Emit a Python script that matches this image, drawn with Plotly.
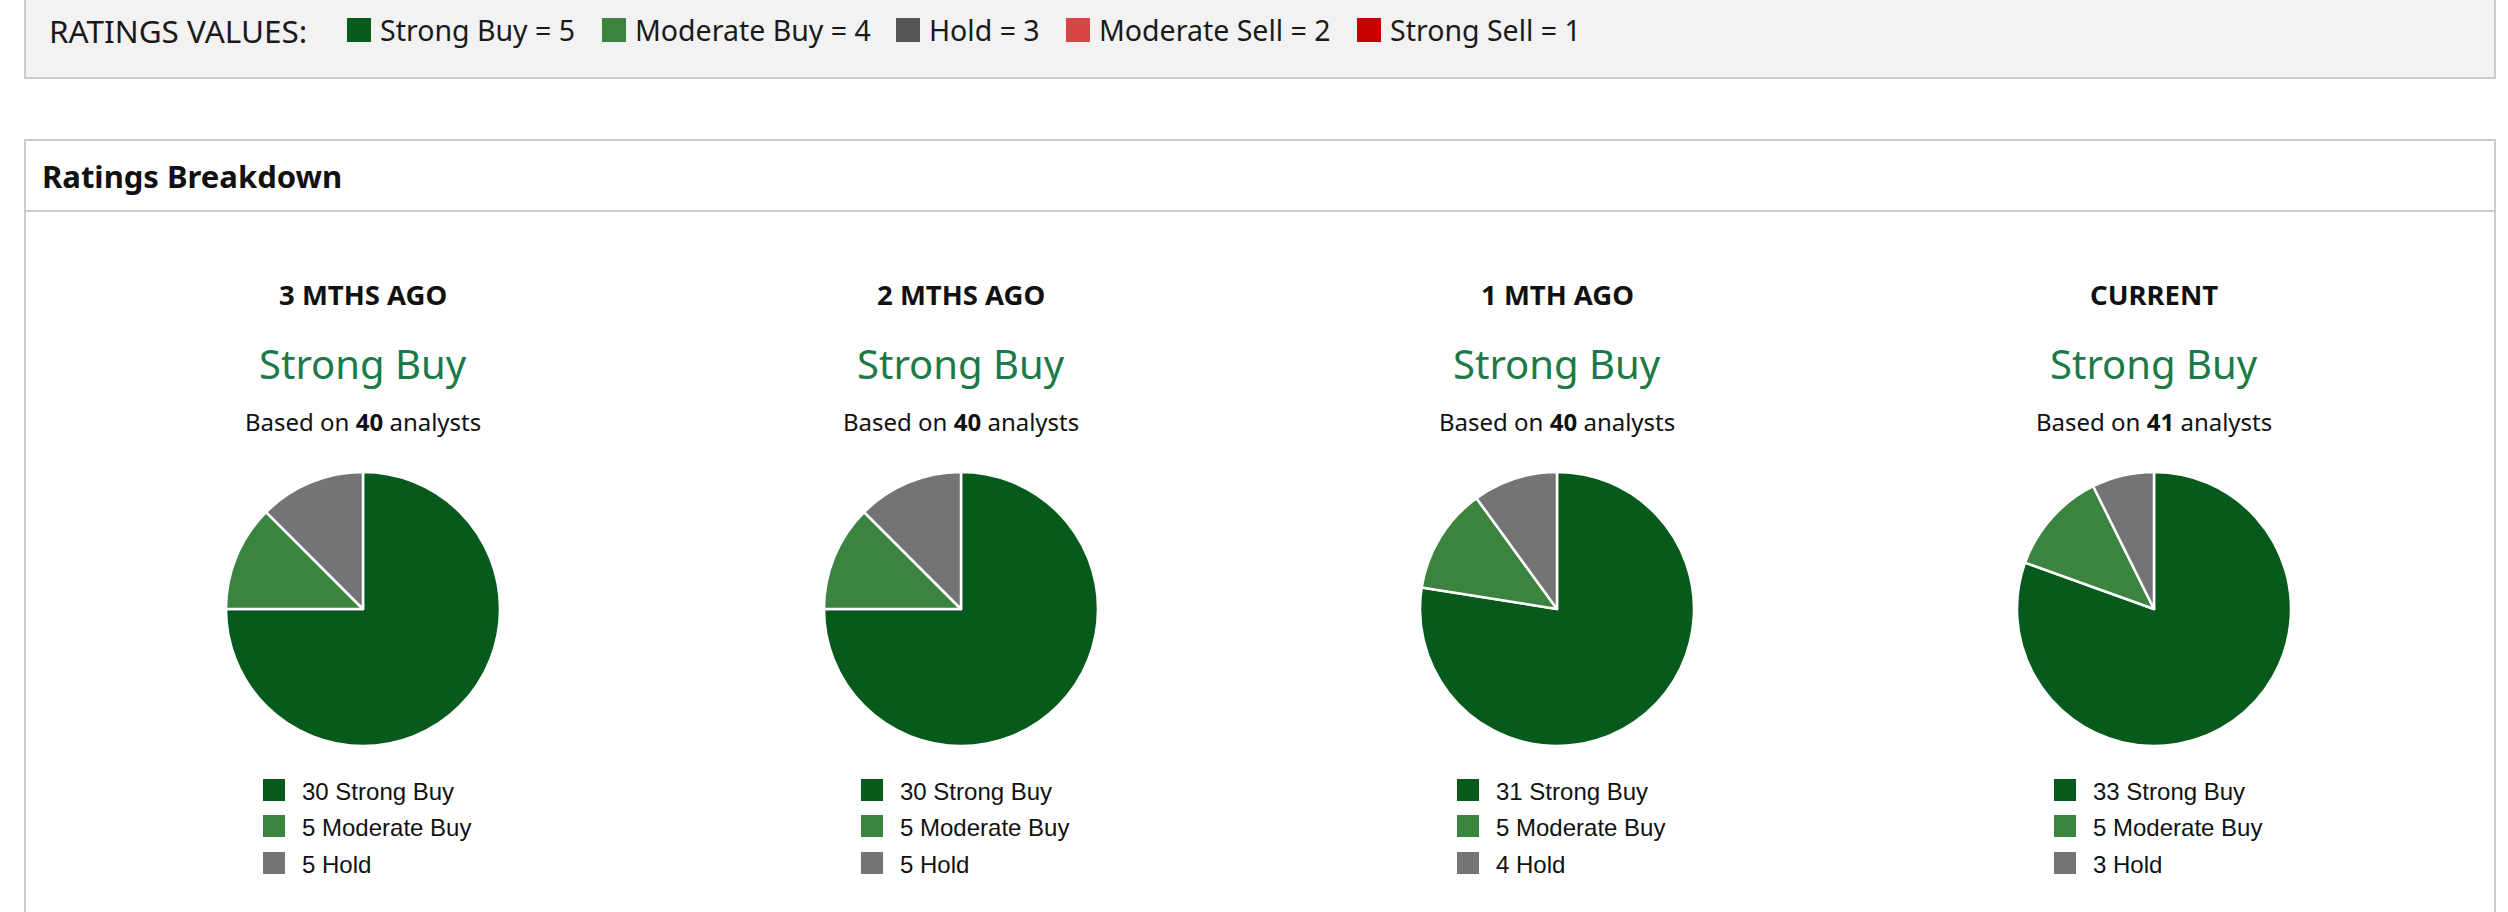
import plotly.graph_objects as go

# ---- data ----
periods = ["3 MTHS AGO", "2 MTHS AGO", "1 MTH AGO", "CURRENT"]
consensus = ["Strong Buy", "Strong Buy", "Strong Buy", "Strong Buy"]
analysts = [40, 40, 40, 41]
rating_names = ["Strong Buy", "Moderate Buy", "Hold"]
strong_buy = [30, 30, 31, 33]
moderate_buy = [5, 5, 5, 5]
hold = [5, 5, 4, 3]

scale_labels = ["Strong Buy = 5", "Moderate Buy = 4", "Hold = 3", "Moderate Sell = 2", "Strong Sell = 1"]
scale_colors = ["#065a1b", "#3a843f", "#555555", "#d94446", "#c60000"]
pie_colors = ["#065a1b", "#3a843f", "#747474"]

# ---- layout constants (pixels) ----
W, H = 2508, 912
col_x = [363, 961, 1557, 2154]
pie_cy = 609
pie_r = 137
scale_sq_x = [347, 602, 896, 1066, 1357]

FONT = "Noto Sans"
LEG_FONT = "Liberation Sans"

fig = go.Figure()

# pies
for i in range(len(periods)):
    vals = [strong_buy[i], moderate_buy[i], hold[i]]
    cx = col_x[i]
    fig.add_trace(go.Pie(
        values=vals,
        labels=rating_names,
        sort=False,
        direction="clockwise",
        rotation=0,
        textinfo="none",
        hoverinfo="label+value",
        marker=dict(colors=pie_colors, line=dict(color="white", width=2.5)),
        domain=dict(x=[(cx - pie_r) / W, (cx + pie_r) / W],
                    y=[1 - (pie_cy + pie_r) / H, 1 - (pie_cy - pie_r) / H]),
        showlegend=False,
    ))

shapes = []
annotations = []

# top gray box
shapes.append(dict(type="rect", xref="x", yref="y", x0=25, x1=2495, y0=-10, y1=78,
                   fillcolor="#f2f2f2", line=dict(color="#cccccc", width=2), layer="below"))
# ratings breakdown panel
shapes.append(dict(type="rect", xref="x", yref="y", x0=25, x1=2495, y0=140, y1=940,
                   fillcolor="white", line=dict(color="#cccccc", width=2), layer="below"))
shapes.append(dict(type="line", xref="x", yref="y", x0=25, x1=2495, y0=211, y1=211,
                   line=dict(color="#cccccc", width=2)))

annotations.append(dict(x=47, y=30, xref="x", yref="y", text="RATINGS VALUES:", showarrow=False,
                        xanchor="left", yanchor="middle",
                        font=dict(family=FONT, size=31.5, color="#1a1a1a")))
for lab, col, sx in zip(scale_labels, scale_colors, scale_sq_x):
    shapes.append(dict(type="rect", xref="x", yref="y", x0=sx, x1=sx + 24, y0=18, y1=42,
                       fillcolor=col, line=dict(width=0)))
    annotations.append(dict(x=sx + 31, y=30, xref="x", yref="y", text=lab, showarrow=False,
                            xanchor="left", yanchor="middle",
                            font=dict(family=FONT, size=28.5, color="#1a1a1a")))

annotations.append(dict(x=40, y=176, xref="x", yref="y", text="<b>Ratings Breakdown</b>", showarrow=False,
                        xanchor="left", yanchor="middle",
                        font=dict(family=FONT, size=31, color="#111111")))

leg_rows = [790, 826, 863]
for i in range(len(periods)):
    cx = col_x[i]
    annotations.append(dict(x=cx, y=294, xref="x", yref="y", text="<b>%s</b>" % periods[i], showarrow=False,
                            xanchor="center", yanchor="middle",
                            font=dict(family=FONT, size=27.5, color="#111111")))
    annotations.append(dict(x=cx, y=363, xref="x", yref="y", text=consensus[i], showarrow=False,
                            xanchor="center", yanchor="middle",
                            font=dict(family=FONT, size=40, color="#1b7a47")))
    annotations.append(dict(x=cx, y=421, xref="x", yref="y",
                            text="Based on <b>%d</b> analysts" % analysts[i], showarrow=False,
                            xanchor="center", yanchor="middle",
                            font=dict(family=FONT, size=24, color="#111111")))
    vals = [strong_buy[i], moderate_buy[i], hold[i]]
    for j, (name, v) in enumerate(zip(rating_names, vals)):
        y = leg_rows[j]
        shapes.append(dict(type="rect", xref="x", yref="y", x0=cx - 100, x1=cx - 78,
                           y0=y - 11, y1=y + 11, fillcolor=pie_colors[j], line=dict(width=0)))
        annotations.append(dict(x=cx - 63, y=y + 1, xref="x", yref="y", text="%d %s" % (v, name),
                                showarrow=False, xanchor="left", yanchor="middle",
                                font=dict(family=LEG_FONT, size=24, color="#111111")))

fig.update_layout(
    width=W, height=H,
    margin=dict(l=0, r=0, t=0, b=0),
    paper_bgcolor="white", plot_bgcolor="white",
    xaxis=dict(range=[0, W], visible=False, fixedrange=True),
    yaxis=dict(range=[H, 0], visible=False, fixedrange=True),
    shapes=shapes,
    annotations=annotations,
    showlegend=False,
)

fig.write_html("out.html", config={"displayModeBar": False},
               post_script="document.body.style.margin='0';document.body.style.overflow='hidden';")
